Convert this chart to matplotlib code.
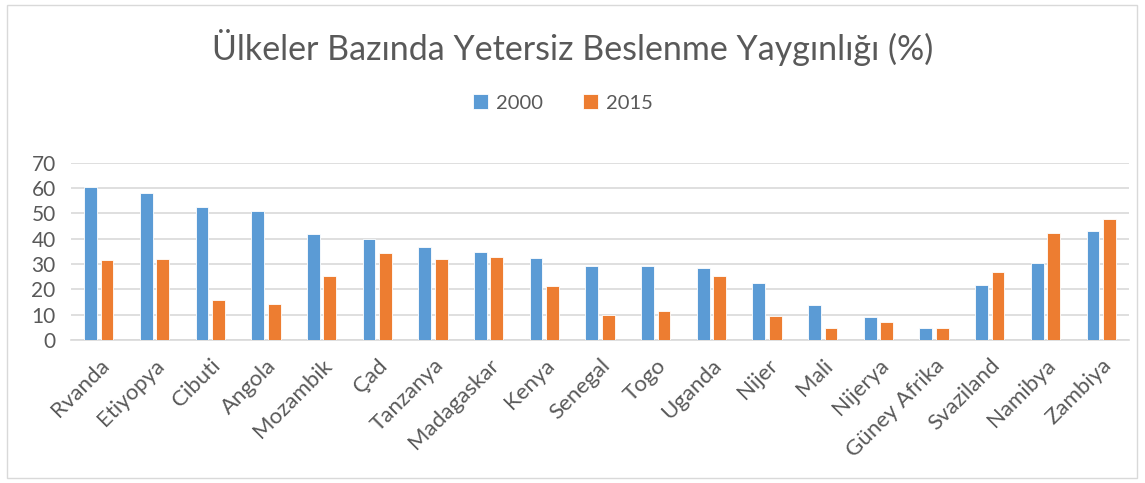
import matplotlib
matplotlib.use("Agg")
import matplotlib.pyplot as plt
import numpy as np
from matplotlib.patches import Rectangle

categories = ["Rvanda", "Etiyopya", "Cibuti", "Angola", "Mozambik", "Çad", "Tanzanya",
              "Madagaskar", "Kenya", "Senegal", "Togo", "Uganda", "Nijer", "Mali",
              "Nijerya", "Güney Afrika", "Svaziland", "Namibya", "Zambiya"]
values_2000 = [60.5, 57.9, 52.4, 50.9, 41.8, 39.9, 36.7, 34.6, 32.2, 29.3, 29.2, 28.4,
               22.6, 13.8, 9.1, 4.7, 21.6, 30.3, 42.9]
values_2015 = [31.5, 31.9, 15.7, 14.1, 25.1, 34.2, 32.0, 32.9, 21.2, 10.0, 11.3, 25.4,
               9.5, 4.7, 7.0, 4.7, 26.7, 42.3, 47.6]
series_labels = ["2000", "2015"]
yticks = [0, 10, 20, 30, 40, 50, 60, 70]

plt.rcParams['font.family'] = ['Lato', 'DejaVu Sans']
txt = '#595959'

fig = plt.figure(figsize=(11.45, 4.83), dpi=100)
fig.patches.append(Rectangle((7/1145, 5/483), 1130/1145, 473/483, transform=fig.transFigure,
                             fill=False, edgecolor='#D9D9D9', linewidth=1))
ax = fig.add_axes([71/1145, (483-340)/483, (1129-71)/1145, (340-162.7)/483])

x = np.arange(len(categories))
w = 0.23
off = 0.148
ax.bar(x - off, values_2000, w, color='#5B9BD5', edgecolor='white', linewidth=0.6, label=series_labels[0], zorder=3)
ax.bar(x + off, values_2015, w, color='#ED7D31', edgecolor='white', linewidth=0.6, label=series_labels[1], zorder=3)

ax.set_xlim(-0.5, len(categories) - 0.5)
ax.set_ylim(0, 70)
ax.set_yticks(yticks)
ax.set_yticklabels([str(v) for v in yticks], fontsize=15, color=txt)
ax.yaxis.grid(True, color='#D9D9D9', linewidth=1.2, zorder=0)
ax.tick_params(axis='y', length=0, pad=11)
ax.tick_params(axis='x', length=0, pad=11)
ax.set_xticks(x)
ax.set_xticklabels(categories, rotation=45, ha='right', rotation_mode='anchor', fontsize=16, color=txt)
for s in ['top', 'right', 'left']:
    ax.spines[s].set_visible(False)
ax.spines['bottom'].set_color('#D9D9D9')
ax.spines['bottom'].set_linewidth(1.2)

fig.text(0.5, 1 - 47/483, "Ülkeler Bazında Yetersiz Beslenme Yaygınlığı (%)", ha='center', va='center',
         fontsize=24.5, color=txt)
fig.legend(loc='center', bbox_to_anchor=(563/1145, 1 - 103/483), ncol=2, frameon=False,
           fontsize=14.5, labelcolor=txt, handlelength=0.75, handleheight=0.75, columnspacing=2.0, handletextpad=0.4)

fig.savefig("out.png", dpi=100)
